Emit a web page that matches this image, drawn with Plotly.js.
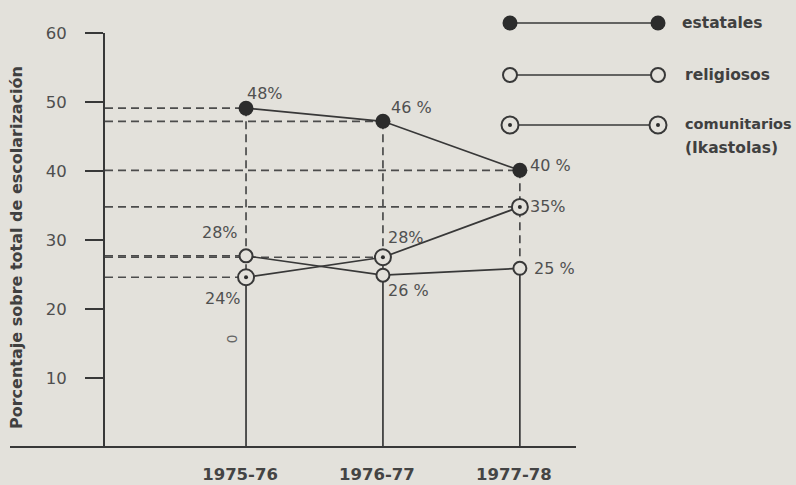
<!DOCTYPE html>
<html><head><meta charset="utf-8">
<script src="https://cdn.plot.ly/plotly-3.0.1.min.js"></script>
<style>html,body{margin:0;padding:0;background:#e3e1db;}#chart{width:796px;height:485px;}</style>
</head><body><div id="chart"></div>
<script>
// ---- data ----
const years = ["1975-76", "1976-77", "1977-78"];
const estatales = [49.1, 47.2, 40.1];
const religiosos = [27.7, 24.9, 25.9];
const comunitarios = [24.6, 27.5, 34.8];
const estatalesLabels = ["48%", "46 %", "40 %"];
const religiososLabels = ["28%", "26 %", "25 %"];
const comunitariosLabels = ["24%", "28%", "35%"];
const yTicks = [10, 20, 30, 40, 50, 60];
const legendNames = ["estatales", "religiosos", "comunitarios", "(Ikastolas)"];
const yTitle = "Porcentaje sobre total de escolarización";

// ---- styling / geometry ----
const W = 796, H = 485;
const BG = "#e3e1db", INK = "#383838", GUIDE = "#4c4c4c", TXT = "#444";
const plotL = 105, plotR = 576, plotT = 33, plotB = 447;
const xRange = [-1.03, 2.41];
const xs = years.map((_, i) => i);
const DASH = "8px,5px";

// guide lines computed from data
const hx = [], hy = [];
function addH(vals, idxs) { idxs.forEach(i => { hx.push(xRange[0], xs[i], null); hy.push(vals[i], vals[i], null); }); }
addH(estatales, [0, 1, 2]);
addH(comunitarios, [0, 1, 2]);
addH(religiosos, [0]);
const vdx = [], vdy = [], vsx = [], vsy = [];
xs.forEach(i => {
  const vals = [estatales[i], religiosos[i], comunitarios[i]];
  const mx = Math.max(...vals), mn = Math.min(...vals);
  vdx.push(i, i, null); vdy.push(mx, mn, null);
  vsx.push(i, i, null); vsy.push(mn, 0, null);
});

const traces = [
  {x: hx, y: hy, mode: "lines", line: {color: GUIDE, width: 1.7, dash: DASH}, hoverinfo: "skip"},
  {x: vdx, y: vdy, mode: "lines", line: {color: GUIDE, width: 1.7, dash: DASH}, hoverinfo: "skip"},
  {x: vsx, y: vsy, mode: "lines", line: {color: INK, width: 1.7}, hoverinfo: "skip"},
  {x: xs, y: estatales, mode: "lines+markers", line: {color: INK, width: 1.7},
   marker: {symbol: "circle", size: 15, color: "#2c2c2c", line: {width: 0}}, cliponaxis: false},
  {x: xs, y: religiosos, mode: "lines+markers", line: {color: INK, width: 1.7},
   marker: {symbol: "circle", size: 13, color: BG, line: {width: 2, color: INK}}, cliponaxis: false},
  {x: xs, y: comunitarios, mode: "lines+markers", line: {color: INK, width: 1.7},
   marker: {symbol: "circle", size: 16, color: BG, line: {width: 2, color: INK}}, cliponaxis: false},
  {x: xs, y: comunitarios, mode: "markers",
   marker: {symbol: "circle", size: 4, color: "#2c2c2c", line: {width: 0}}, cliponaxis: false}
];

// legend (drawn in a pixel-space overlay subplot)
const legRows = [23, 75, 125];
const legX = [510, 658];
const legMarkers = [
  [{symbol: "circle", size: 15, color: "#2c2c2c", line: {width: 0}}],
  [{symbol: "circle", size: 14, color: BG, line: {width: 2, color: INK}}],
  [{symbol: "circle", size: 17, color: BG, line: {width: 2, color: INK}},
   {symbol: "circle", size: 4, color: "#2c2c2c", line: {width: 0}}]
];
legRows.forEach((ry, k) => {
  legMarkers[k].forEach((m, j) => {
    traces.push({x: legX, y: [ry, ry], xaxis: "x2", yaxis: "y2",
      mode: j === 0 ? "lines+markers" : "markers",
      line: {color: INK, width: 1.7}, marker: m, hoverinfo: "skip", cliponaxis: false});
  });
});

// data labels
const labelFont = {family: "DejaVu Sans", size: 16, color: "#505050"};
const place = {
  est: [["left", -1, 15], ["left", 6, 14], ["left", 8, 5]],
  rel: [["right", -6, 23], ["left", 3, -15], ["left", 12, 0]],
  com: [["right", -3, -21], ["left", 3, 20], ["left", 8, 0]]
};
const annotations = [];
function addLabels(vals, labels, pl) {
  xs.forEach(i => annotations.push({x: xs[i], y: vals[i], xref: "x", yref: "y", text: labels[i],
    showarrow: false, xanchor: pl[i][0], yanchor: "middle", xshift: pl[i][1], yshift: pl[i][2], font: labelFont}));
}
addLabels(estatales, estatalesLabels, place.est);
addLabels(religiosos, religiososLabels, place.rel);
addLabels(comunitarios, comunitariosLabels, place.com);

const legTextPos = [[680, 23, 15.5], [683, 75, 15.5], [683, 124, 14.5], [683, 148, 15.5]];
legendNames.forEach((t, k) => annotations.push({x: legTextPos[k][0], y: legTextPos[k][1], xref: "x2", yref: "y2",
  text: t, showarrow: false, xanchor: "left", yanchor: "middle",
  font: {family: "DejaVu Sans", size: legTextPos[k][2], color: "#404040", weight: "bold"}}));

annotations.push({x: 17 / W, y: (H - 248) / H, xref: "paper", yref: "paper", text: yTitle, textangle: -90,
  showarrow: false, xanchor: "center", yanchor: "middle",
  font: {family: "DejaVu Sans", size: 16, color: "#404040", weight: "bold"}});
annotations.push({x: 222 / W, y: (H - 345) / H, xref: "paper", yref: "paper", text: "0", textangle: 90,
  showarrow: false, font: {family: "DejaVu Sans", size: 14, color: "#666"}});

const layout = {
  width: W, height: H, margin: {l: 0, r: 0, t: 0, b: 0},
  paper_bgcolor: BG, plot_bgcolor: "rgba(0,0,0,0)", showlegend: false,
  xaxis: {domain: [plotL / W, plotR / W], range: xRange, tickvals: xs, ticktext: years,
    showgrid: false, zeroline: false, showline: false, ticks: "", ticklabelstandoff: 15, ticklabelshift: -6,
    tickfont: {family: "DejaVu Sans", size: 16.5, color: TXT, weight: "bold"}, fixedrange: true},
  yaxis: {domain: [(H - plotB) / H, (H - plotT) / H], range: [0, 60], tickvals: yTicks,
    showgrid: false, zeroline: false, showline: true, linecolor: INK, linewidth: 2,
    ticks: "outside", ticklen: 18, tickwidth: 2, tickcolor: INK, ticklabelstandoff: 15,
    tickfont: {family: "DejaVu Sans", size: 16.5, color: "#4e4e4e"}, fixedrange: true},
  xaxis2: {domain: [0, 1], range: [0, W], visible: false, anchor: "y2", fixedrange: true},
  yaxis2: {domain: [0, 1], range: [H, 0], visible: false, anchor: "x2", fixedrange: true},
  shapes: [{type: "line", xref: "paper", yref: "paper", x0: 10 / W, x1: plotR / W,
    y0: (H - plotB) / H, y1: (H - plotB) / H, line: {color: INK, width: 2}}],
  annotations: annotations
};
Plotly.newPlot("chart", traces, layout, {staticPlot: true});
</script></body></html>
